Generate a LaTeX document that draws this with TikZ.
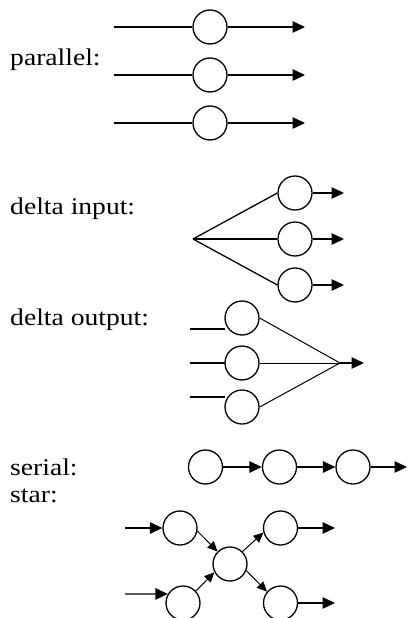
\documentclass[tikz,border=0pt]{standalone}
\usepackage{fontspec}
\setmainfont[FakeStretch=1.15]{Liberation Serif}
\usetikzlibrary{arrows.meta}
\begin{document}
\begin{tikzpicture}[x=1pt,y=-1pt,
  unit/.style={circle,draw,line width=1.3pt,minimum size=34pt,inner sep=0pt},
  wire/.style={line width=1.3pt},
  flow/.style={line width=1.3pt,-{Triangle[length=12.5pt,width=11.5pt]}},
  diag/.style={line width=1pt,-{Triangle[length=10pt,width=9pt]}},
  lbl/.style={anchor=base west,inner sep=0pt,font=\fontsize{24pt}{28pt}\selectfont}]
\useasboundingbox (0,0) rectangle (407,618);

% labels
\node[lbl] (tpar) at (10,66) {parallel:};
\node[lbl] (tdin) at (10,214) {delta input:};
\node[lbl] (tdout) at (10,325) {delta output:};
\node[lbl] (tser) at (10,475) {serial:};
\node[lbl] (tstar) at (10,502) {star:};

% parallel
\foreach \i/\y in {1/27,2/75,3/123} {
  \node[unit] (p\i) at (210,\y) {};
  \coordinate (pin\i) at (114,\y);
  \coordinate (pout\i) at (305,\y);
  \draw[wire] (pin\i) -- (p\i);
  \draw[flow] (p\i) -- (pout\i);
}

% delta input
\coordinate (apex) at (193,239);
\foreach \i/\y in {1/193,2/239,3/285} {
  \node[unit] (di\i) at (295,\y) {};
  \coordinate (diout\i) at (344,\y);
  \draw[wire] (apex) -- (di\i.west);
  \draw[flow] (di\i) -- (diout\i);
}

% delta output
\coordinate (join) at (340,363);
\coordinate (joinout) at (364,363);
\foreach \i/\y/\ly in {1/318/329,2/363/363,3/407/397} {
  \node[unit] (do\i) at (242,\y) {};
  \coordinate (doa\i) at (190,\ly);
  \coordinate (dob\i) at (224.5,\ly);
  \draw[line width=1.8pt] (doa\i) -- (dob\i);
  \draw[line width=1pt] (do\i.east) -- (join);
}
\draw[flow] (join) -- (joinout);

% serial
\node[unit] (s1) at (205.5,467) {};
\node[unit] (s2) at (279.5,467) {};
\node[unit] (s3) at (353,467) {};
\coordinate (sout) at (407,467);
\draw[flow] (s1) -- (s2);
\draw[flow] (s2) -- (s3);
\draw[flow] (s3) -- (sout);

% star
\node[unit] (tl) at (180,528) {};
\node[unit] (tr) at (280.5,528) {};
\node[unit] (c) at (230,564) {};
\node[unit] (bl) at (183,603) {};
\node[unit] (br) at (280.5,603) {};
\coordinate (in1) at (125,528);
\coordinate (in2) at (125,594);
\coordinate (out1) at (335,528);
\coordinate (out2) at (335,603);
\draw[flow] (in1) -- (tl);
\draw[flow] (in2) -- (bl.149);
\draw[flow] (tr) -- (out1);
\draw[flow] (br) -- (out2);
\draw[diag] (tl.-10) -- (c.135);
\draw[diag] (c.45) -- (tr.195);
\draw[diag] (bl.43) -- (c.208);
\draw[diag] (c.-22) -- (br.140);
\end{tikzpicture}
\end{document}
